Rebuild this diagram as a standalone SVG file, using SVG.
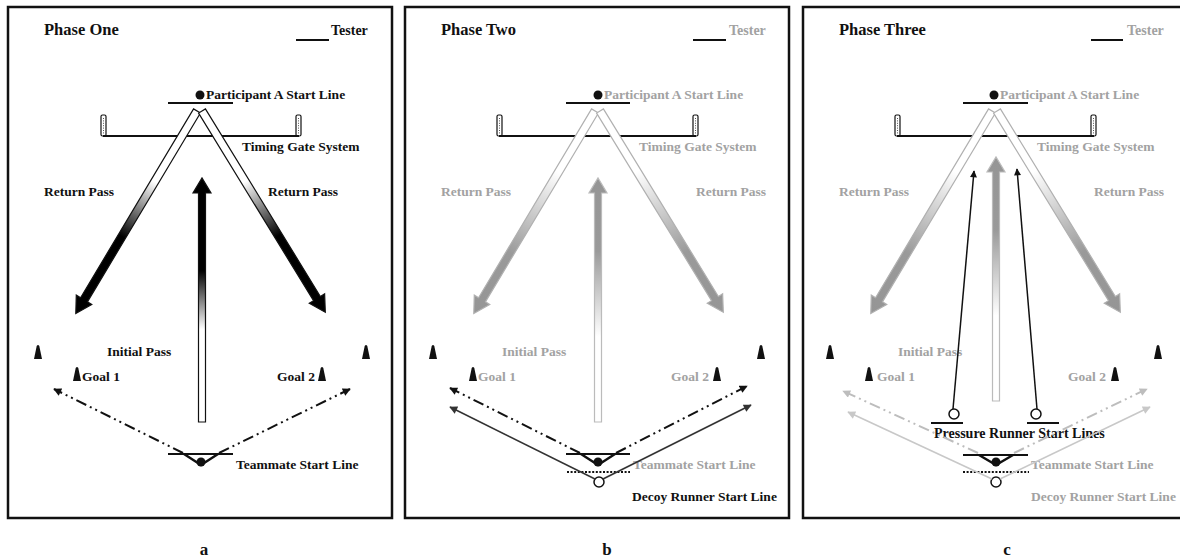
<svg xmlns="http://www.w3.org/2000/svg" width="1180" height="557" viewBox="0 0 1180 557">
  <defs>
    <style>
      text{font-family:"Liberation Serif","Times New Roman",serif;font-weight:bold;font-size:13.5px;fill:#111}
      .title{font-size:16.5px}
      .tester{font-size:14px}
      .dim{fill:#a2a2a2}
      .sub{font-size:17px;text-anchor:middle}
      .frame{fill:none;stroke:#111;stroke-width:2.5}
      .bar{stroke:#111;stroke-width:2;fill:none}
      .dot{fill:#111}
      .open{fill:#fff;stroke:#111;stroke-width:1.5}
      .vee{fill:none;stroke:#111;stroke-width:2.5;stroke-linejoin:round}
      .dotted{stroke:#111;stroke-width:2;stroke-dasharray:2 1.6;fill:none}
      .dd{fill:none;stroke-width:2;stroke-dasharray:11 4 2 4 2 4}
      .post{fill:#fff;stroke:#111;stroke-width:1.2}
      .hatch{stroke:#555;stroke-width:1;stroke-dasharray:1 1.4}
    </style>
    <!-- band fills: along the arrow's own x axis -->
    <linearGradient id="retK" x1="0" y1="0" x2="1" y2="0">
      <stop offset="0" stop-color="#fff"/>
      <stop offset="0.35" stop-color="#fff"/>
      <stop offset="0.62" stop-color="#000"/>
      <stop offset="1" stop-color="#000"/>
    </linearGradient>
    <linearGradient id="iniK" x1="0" y1="0" x2="1" y2="0">
      <stop offset="0" stop-color="#fff"/>
      <stop offset="0.38" stop-color="#fff"/>
      <stop offset="0.62" stop-color="#000"/>
      <stop offset="1" stop-color="#000"/>
    </linearGradient>
    <linearGradient id="retG" x1="0" y1="0" x2="1" y2="0">
      <stop offset="0" stop-color="#fff"/>
      <stop offset="0.3" stop-color="#fff"/>
      <stop offset="0.7" stop-color="#9a9a9a"/>
      <stop offset="1" stop-color="#959595"/>
    </linearGradient>
    <linearGradient id="iniG" x1="0" y1="0" x2="1" y2="0">
      <stop offset="0" stop-color="#fff"/>
      <stop offset="0.35" stop-color="#fff"/>
      <stop offset="0.7" stop-color="#9a9a9a"/>
      <stop offset="1" stop-color="#959595"/>
    </linearGradient>
    <marker id="hK" viewBox="0 0 10 10" refX="9" refY="5" markerUnits="userSpaceOnUse" markerWidth="9" markerHeight="8" orient="auto">
      <path d="M0,0 L10,5 L0,10 Z" fill="#111"/>
    </marker>
    <marker id="hD" viewBox="0 0 10 10" refX="9" refY="5" markerUnits="userSpaceOnUse" markerWidth="10" markerHeight="8" orient="auto">
      <path d="M0,0 L10,5 L0,10 Z" fill="#333"/>
    </marker>
    <marker id="hL" viewBox="0 0 10 10" refX="9" refY="5" markerUnits="userSpaceOnUse" markerWidth="9" markerHeight="8" orient="auto">
      <path d="M0,0 L10,5 L0,10 Z" fill="#bdbdbd"/>
    </marker>
    <marker id="hL2" viewBox="0 0 10 10" refX="9" refY="5" markerUnits="userSpaceOnUse" markerWidth="10" markerHeight="8" orient="auto">
      <path d="M0,0 L10,5 L0,10 Z" fill="#c8c8c8"/>
    </marker>
    <marker id="hThin" viewBox="0 0 10 10" refX="9" refY="5" markerUnits="userSpaceOnUse" markerWidth="11" markerHeight="7" orient="auto">
      <path d="M0,0 L10,5 L0,10 Z" fill="#111"/>
    </marker>
    <!-- cone, base centre at 0,0 -->
    <path id="cone" d="M-4,0 L-1.3,-13 Q0,-15 1.3,-13 L4,0 Z" fill="#111"/>
    <!-- timing gate post -->
    <g id="post">
      <rect x="0" y="0" width="5" height="21" rx="1.5" class="post"/>
      <line x1="2.5" y1="3" x2="2.5" y2="19" class="hatch"/>
    </g>
    <!-- pass bands, drawn along +x -->
    <polygon id="bandRet" points="0,-4 220,-4 220,-9 236,0 220,9 220,4 0,4"/>
    <polygon id="bandIni" points="0,-3.5 229,-3.5 229,-9 244,0 229,9 229,3.5 0,3.5"/>
  </defs>

  <rect width="1180" height="557" fill="#fff"/>

  <!-- ===== Phase One ===== -->
  <g id="panel-a">
    <rect class="frame" x="8" y="7" width="384" height="511"/>
    <g id="a-title"><text class="title" x="44" y="35">Phase One</text></g>
    <g id="a-tester"><line class="bar" x1="296" y1="40" x2="329" y2="40"/><text class="tester" x="331" y="35">Tester</text></g>
    <g id="a-participant">
      <line class="bar" x1="168" y1="103" x2="233" y2="103"/>
      <circle class="dot" cx="200" cy="95" r="4.5"/>
      <text x="206" y="99">Participant A Start Line</text>
    </g>
    <g id="a-gate">
      <use href="#post" x="101" y="115"/>
      <use href="#post" x="296" y="115"/>
      <line class="bar" x1="103" y1="136" x2="299" y2="136"/>
      <text x="242" y="151">Timing Gate System</text>
    </g>
    <g id="a-cones">
      <use href="#cone" x="38" y="359"/>
      <use href="#cone" x="366" y="359"/>
    </g>
    <g id="a-goal1"><use href="#cone" x="77" y="381"/><text x="82" y="381">Goal 1</text></g>
    <g id="a-goal2"><use href="#cone" x="322" y="381"/><text x="277" y="381">Goal 2</text></g>
    <g id="a-teammate">
      <line class="bar" x1="168" y1="454" x2="233" y2="454"/>
      <polyline class="vee" points="184,454 201,465 218,454"/>
      <circle class="dot" cx="201" cy="462" r="4.5"/>
      <text x="236" y="469">Teammate Start Line</text>
    </g>
    <g id="a-labels">
      <text x="44" y="196">Return Pass</text>
      <text x="268" y="196">Return Pass</text>
      <text x="107" y="356">Initial Pass</text>
    </g>
    <g id="a-connectors">
      <use href="#bandRet" fill="url(#retK)" stroke="#111" stroke-width="1.2" transform="translate(197,111) rotate(120.9)"/>
      <use href="#bandRet" fill="url(#retK)" stroke="#111" stroke-width="1.2" transform="translate(202,111) rotate(58.5)"/>
      <use href="#bandIni" fill="url(#iniK)" stroke="#111" stroke-width="1.2" transform="translate(202,422) rotate(-90)"/>
      <path class="dd" stroke="#111" d="M183,453 L54,389" marker-end="url(#hK)"/>
      <path class="dd" stroke="#111" d="M219,453 L350,389" marker-end="url(#hK)"/>
    </g>
  </g>

  <!-- ===== Phase Two ===== -->
  <g id="panel-b" transform="translate(397,0)">
    <rect class="frame" x="8" y="7" width="384" height="511"/>
    <g id="b-title"><text class="title" x="44" y="35">Phase Two</text></g>
    <g id="b-tester"><line class="bar" x1="296" y1="40" x2="329" y2="40"/><text class="tester dim" x="332" y="35">Tester</text></g>
    <g id="b-participant">
      <line class="bar" x1="169" y1="103" x2="233" y2="103"/>
      <circle class="dot" cx="201" cy="95" r="4.5"/>
      <text class="dim" x="207" y="99">Participant A Start Line</text>
    </g>
    <g id="b-gate">
      <use href="#post" x="100" y="115"/>
      <use href="#post" x="296" y="115"/>
      <line class="bar" x1="102" y1="136" x2="299" y2="136"/>
      <text class="dim" x="242" y="151">Timing Gate System</text>
    </g>
    <g id="b-cones">
      <use href="#cone" x="36" y="359"/>
      <use href="#cone" x="364" y="359"/>
    </g>
    <g id="b-goal1"><use href="#cone" x="76" y="381"/><text class="dim" x="81" y="381">Goal 1</text></g>
    <g id="b-goal2"><use href="#cone" x="320" y="381"/><text class="dim" x="274" y="381">Goal 2</text></g>
    <g id="b-teammate">
      <line class="bar" x1="169" y1="454" x2="233" y2="454"/>
      <polyline class="vee" points="184,454 201,465 218,454"/>
      <circle class="dot" cx="201" cy="462" r="4.5"/>
      <text class="dim" x="236" y="469">Teammate Start Line</text>
    </g>
    <g id="b-decoy">
      <line class="dotted" x1="170" y1="472" x2="233" y2="472"/>
      <circle class="open" cx="202" cy="482" r="5"/>
      <text x="235" y="501">Decoy Runner Start Line</text>
    </g>
    <g id="b-labels">
      <text class="dim" x="44" y="196">Return Pass</text>
      <text class="dim" x="299" y="196">Return Pass</text>
      <text class="dim" x="105" y="356">Initial Pass</text>
    </g>
    <g id="b-connectors">
      <use href="#bandRet" fill="url(#retG)" stroke="#b0b0b0" stroke-width="1.2" transform="translate(198,111) rotate(120.9)"/>
      <use href="#bandRet" fill="url(#retG)" stroke="#b0b0b0" stroke-width="1.2" transform="translate(203,111) rotate(58.5)"/>
      <use href="#bandIni" fill="url(#iniG)" stroke="#bbb" stroke-width="1.2" transform="translate(201,422) rotate(-90)"/>
      <path class="dd" stroke="#111" d="M183,453 L53,388" marker-end="url(#hK)"/>
      <path class="dd" stroke="#111" d="M219,453 L350,386" marker-end="url(#hK)"/>
      <path fill="none" stroke="#333" stroke-width="1.6" d="M198,479 L53,407" marker-end="url(#hD)"/>
      <path fill="none" stroke="#333" stroke-width="1.6" d="M206,479 L354,405" marker-end="url(#hD)"/>
    </g>
  </g>

  <!-- ===== Phase Three ===== -->
  <g id="panel-c" transform="translate(795,0)">
    <rect class="frame" x="8" y="7" width="384" height="511"/>
    <g id="c-title"><text class="title" x="44" y="35">Phase Three</text></g>
    <g id="c-tester"><line class="bar" x1="296" y1="40" x2="328" y2="40"/><text class="tester dim" x="332" y="35">Tester</text></g>
    <g id="c-participant">
      <line class="bar" x1="168" y1="103" x2="233" y2="103"/>
      <circle class="dot" cx="199" cy="95" r="4.5"/>
      <text class="dim" x="205" y="99">Participant A Start Line</text>
    </g>
    <g id="c-gate">
      <use href="#post" x="100" y="115"/>
      <use href="#post" x="296" y="115"/>
      <line class="bar" x1="102" y1="136" x2="299" y2="136"/>
      <text class="dim" x="242" y="151">Timing Gate System</text>
    </g>
    <g id="c-cones">
      <use href="#cone" x="35" y="359"/>
      <use href="#cone" x="363" y="359"/>
    </g>
    <g id="c-goal1"><use href="#cone" x="74" y="381"/><text class="dim" x="82" y="381">Goal 1</text></g>
    <g id="c-goal2"><use href="#cone" x="320" y="381"/><text class="dim" x="273" y="381">Goal 2</text></g>
    <g id="c-teammate">
      <line class="bar" x1="168" y1="455" x2="233" y2="455"/>
      <polyline class="vee" points="184,455 201,465 218,455"/>
      <circle class="dot" cx="201" cy="462" r="4.5"/>
      <text class="dim" x="236" y="469">Teammate Start Line</text>
    </g>
    <g id="c-decoy">
      <line class="dotted" x1="168" y1="472" x2="234" y2="472"/>
      <circle class="open" cx="201" cy="482" r="5"/>
      <text class="dim" x="236" y="501">Decoy Runner Start Line</text>
    </g>
    <g id="c-pressure">
      <line class="bar" x1="136" y1="423" x2="168" y2="423"/>
      <line class="bar" x1="232" y1="423" x2="264" y2="423"/>
      <circle class="open" cx="159" cy="414" r="5"/>
      <circle class="open" cx="241" cy="414" r="5"/>
      <text class="tester" x="139" y="438">Pressure Runner Start Lines</text>
    </g>
    <g id="c-labels">
      <text class="dim" x="44" y="196">Return Pass</text>
      <text class="dim" x="299" y="196">Return Pass</text>
      <text class="dim" x="103" y="356">Initial Pass</text>
    </g>
    <g id="c-connectors">
      <use href="#bandRet" fill="url(#retG)" stroke="#b0b0b0" stroke-width="1.2" transform="translate(197,111) rotate(120.9)"/>
      <use href="#bandRet" fill="url(#retG)" stroke="#b0b0b0" stroke-width="1.2" transform="translate(202,111) rotate(58.5)"/>
      <use href="#bandIni" fill="url(#iniG)" stroke="#bbb" stroke-width="1.2" transform="translate(201,401) rotate(-90)"/>
      <path class="dd" stroke="#bdbdbd" d="M183,453 L48,391" marker-end="url(#hL)"/>
      <path class="dd" stroke="#bdbdbd" d="M219,453 L352,389" marker-end="url(#hL)"/>
      <path fill="none" stroke="#c8c8c8" stroke-width="1.6" d="M197,479 L53,412" marker-end="url(#hL2)"/>
      <path fill="none" stroke="#c8c8c8" stroke-width="1.6" d="M205,479 L355,407" marker-end="url(#hL2)"/>
      <path fill="none" stroke="#111" stroke-width="1.5" d="M158,409 L179,171" marker-end="url(#hThin)"/>
      <path fill="none" stroke="#111" stroke-width="1.5" d="M242,409 L222,169" marker-end="url(#hThin)"/>
    </g>
  </g>

  <g id="sublabels">
    <text class="sub" x="204" y="555">a</text>
    <text class="sub" x="607" y="555">b</text>
    <text class="sub" x="1007" y="555">c</text>
  </g>
</svg>
